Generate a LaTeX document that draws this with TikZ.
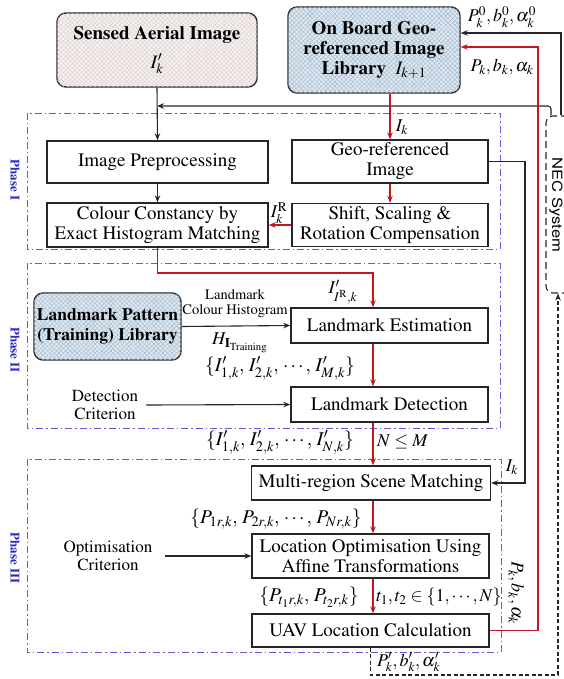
\documentclass[tikz,border=0pt]{standalone}
\usepackage[T1]{fontenc}
\usepackage{mathptmx}
\usepackage[scaled=0.92]{helvet}
\usetikzlibrary{arrows.meta,patterns.meta,calc}
\definecolor{myred}{RGB}{196,22,30}
\definecolor{phaseblue}{RGB}{95,95,215}
\definecolor{phasetxt}{RGB}{40,40,190}
\definecolor{pinkbase}{RGB}{246,240,240}
\definecolor{pinkline}{RGB}{218,206,206}
\definecolor{bluebase}{RGB}{220,231,241}
\definecolor{blueline}{RGB}{165,186,204}
\newcommand\boxfont{\fontsize{19}{20}\selectfont}
\newcommand\lblfont{\fontsize{17}{18}\selectfont}
\newcommand\smallfont{\fontsize{14.5}{15}\selectfont}
\newcommand\mathfont{\fontsize{18}{19}\selectfont}
\newcommand\setfont{\fontsize{19.5}{20}\selectfont}
\begin{document}
\begin{tikzpicture}[x=1pt,y=-1pt,
  box/.style={draw=black!85, line width=1.4pt, fill=white, inner sep=0pt, align=center, font=\boxfont},
  pinkhatch/.style={fill=pinkbase,
     postaction={pattern={Lines[angle=45,distance=3.2pt,line width=0.35pt]},pattern color=pinkline},
     postaction={pattern={Lines[angle=-45,distance=3.2pt,line width=0.35pt]},pattern color=pinkline}},
  bluehatch/.style={fill=bluebase,
     postaction={pattern={Lines[angle=45,distance=3.2pt,line width=0.4pt]},pattern color=blueline},
     postaction={pattern={Lines[angle=-45,distance=3.2pt,line width=0.4pt]},pattern color=blueline}},
  conn/.style={line width=1.1pt, draw=black!85, -{Stealth[length=7pt,width=5.5pt]}},
  redc/.style={conn, draw=myred, -{Stealth[length=7pt,width=5.5pt,fill=myred]}},
  dconn/.style={conn, dashed, dash pattern=on 4pt off 2.5pt},
  phasebox/.style={draw=phaseblue, line width=0.9pt, dash pattern=on 7pt off 3pt on 1.5pt off 3pt},
  phaselbl/.style={text=phasetxt, font=\fontsize{13}{14}\selectfont\bfseries, rotate=-90, inner sep=0pt},
  lbl/.style={font=\mathfont, inner sep=0pt},
  setlbl/.style={font=\setfont, inner sep=0pt},
  txt/.style={font=\lblfont, align=center, inner sep=0pt},
]
\useasboundingbox (0,0) rectangle (563,679);

% phase boxes
\draw[phasebox] (27,113) rectangle (500,249);
\draw[phasebox] (27,263) rectangle (500,428);
\draw[phasebox] (27,459) rectangle (501,652);
\node[phaselbl] (ph1) at (15,180) {Phase I};
\node[phaselbl] (ph2) at (15,350) {Phase II};
\node[phaselbl] (ph3) at (15,558) {Phase III};

% top boxes
\node[box, pinkhatch, rounded corners=9pt, minimum width=200pt, minimum height=74pt] (sensed) at (157,50)
  {\textbf{Sensed Aerial Image}\\[9pt]$I'_k$};
\node[box, bluehatch, rounded corners=9pt, minimum width=172pt, minimum height=86pt] (onboard) at (374,50)
  {\textbf{On Board Geo-}\\\textbf{referenced Image}\\\textbf{Library}\ \ $I_{k+1}$};

% phase I
\node[box, minimum width=221pt, minimum height=42pt] (imgpre) at (157.5,162) {Image Preprocessing};
\node[box, minimum width=221pt, minimum height=44pt] (colour) at (157.5,225) {Colour Constancy by\\Exact Histogram Matching};
\node[box, minimum width=196pt, minimum height=43pt] (geo) at (390,161.5) {Geo-referenced\\Image};
\node[box, minimum width=196pt, minimum height=43pt] (shift) at (390,225) {Shift, Scaling \&\\Rotation Compensation};

% phase II
\node[box, bluehatch, rounded corners=9pt, minimum width=147pt, minimum height=67pt, font=\fontsize{17.5}{20}\selectfont\bfseries] (lmlib) at (107.5,326.5) {Landmark Pattern\\(Training) Library};
\node[box, minimum width=197pt, minimum height=35pt] (est) at (389.5,325.5) {Landmark Estimation};
\node[box, minimum width=197pt, minimum height=35pt] (det) at (389.5,404.5) {Landmark Detection};

% phase III
\node[box, minimum width=239pt, minimum height=34pt] (multi) at (371,483) {Multi-region Scene Matching};
\node[box, minimum width=237pt, minimum height=44pt] (locopt) at (370.5,556) {Location Optimisation Using\\Affine Transformations};
\node[box, minimum width=237pt, minimum height=33pt] (uav) at (370.5,630.5) {UAV Location Calculation};

% NEC system
\node[draw=black!85, line width=1.1pt, dashed, dash pattern=on 7pt off 4pt, rounded corners=7pt, minimum width=40pt, minimum height=177pt] (nec) at (566,204.5) {};
\node[font=\sffamily\fontsize{15}{16}\selectfont, rotate=-90, inner sep=0pt] (nectxt) at (556,205) {\scalebox{1.2}[1]{NEC System}};

% text inputs
\node[txt] (detcrit) at (105,405) {Detection\\Criterion};
\node[txt] (optcrit) at (108,556) {Optimisation\\Criterion};
\node[txt, font=\smallfont] (lmhist) at (235,304) {Landmark\\Colour Histogram};

% helper coordinates
\coordinate (chainx) at (373,0);
\coordinate (r33) at (0,33);
\coordinate (r47) at (0,47);
\coordinate (r106) at (0,106);
\coordinate (r273) at (0,273);
\coordinate (r675) at (0,675);
\coordinate (x525) at (525,0);
\coordinate (x538) at (538,0);
\coordinate (x551) at (551,0);
\coordinate (x558) at (558,0);
\coordinate (x561) at (561,0);

% connectors
\draw[conn] (sensed.south) -- (imgpre.north);
\draw[conn, rounded corners=3pt] (x551 |- nec.north) |- (sensed.south |- r106);
\draw[conn] (x561 |- nec.north) |- (onboard.east |- r33);
\draw[redc] (uav.east) -| (x538 |- r47) -- (onboard.east |- r47);
\draw[redc] (onboard.south -| geo.north) -- (geo.north);
\draw[redc] (geo.south) -- (shift.north);
\draw[redc] (shift.west) -- (colour.east);
\draw[conn] (imgpre.south) -- (colour.north);
\draw[conn] (geo.east) -| (x525 |- multi.east) -- (multi.east);
\draw[redc] (colour.south) |- (chainx |- r273) -- (chainx |- est.north);
\draw[redc] (chainx |- est.south) -- (chainx |- det.north);
\draw[redc] (chainx |- det.south) -- (chainx |- multi.north);
\draw[redc] (chainx |- multi.south) -- (chainx |- locopt.north);
\draw[redc] (chainx |- locopt.south) -- (chainx |- uav.north);
\draw[conn] (lmlib.east) -- (est.west);
\draw[conn] (detcrit.east) ++(8,0) -- (det.west);
\draw[conn] (optcrit.east) ++(12,0) -- (locopt.west);
\draw[dconn] (uav.south) -- (uav.south |- r675) -| (x558 |- nec.south);

% labels
\node[lbl] (lb0) at (502,17) {$P_k^0, b_k^0, \alpha_k^0$};
\node[lbl] (lb1) at (502,67) {$P_k, b_k, \alpha_k$};
\node[lbl] (lIk) at (402,127) {$I_k$};
\node[lbl] (lIR) at (279,213) {$I_k^{\mathrm{R}}$};
\node[lbl] (lIRk) at (343,292) {$I'_{I^{\mathrm{R}},k}$};
\node[lbl] (lH) at (240,343) {$H_{\mathbf{I}_{\mathrm{Training}}}$};
\node[setlbl] (lM) at (280,368) {$\{I'_{1,k},\,I'_{2,k},\,\cdots,\,I'_{M,k}\}$};
\node[setlbl] (lN) at (280,442) {$\{I'_{1,k},\,I'_{2,k},\,\cdots,\,I'_{N,k}\}$};
\node[lbl, anchor=west] (lNM) at (377,442) {$N\le M$};
\node[lbl] (lIk2) at (512,467) {$I_k$};
\node[setlbl] (lP) at (276,519) {$\{P_{1r,k},\,P_{2r,k},\,\cdots,\,P_{Nr,k}\}$};
\node[setlbl] (lPt) at (309,597) {$\{P_{t_1r,k},\,P_{t_2r,k}\}$};
\node[lbl, anchor=west] (lt) at (376,597) {$t_1,t_2\in\{1,\cdots,N\}$};
\node[lbl, rotate=-90] (lrot) at (516,593) {$P_k, b_k, \alpha_k$};
\node[lbl, anchor=west] (lPp) at (377,662) {$P'_k, b'_k, \alpha'_k$};
\end{tikzpicture}
\end{document}
